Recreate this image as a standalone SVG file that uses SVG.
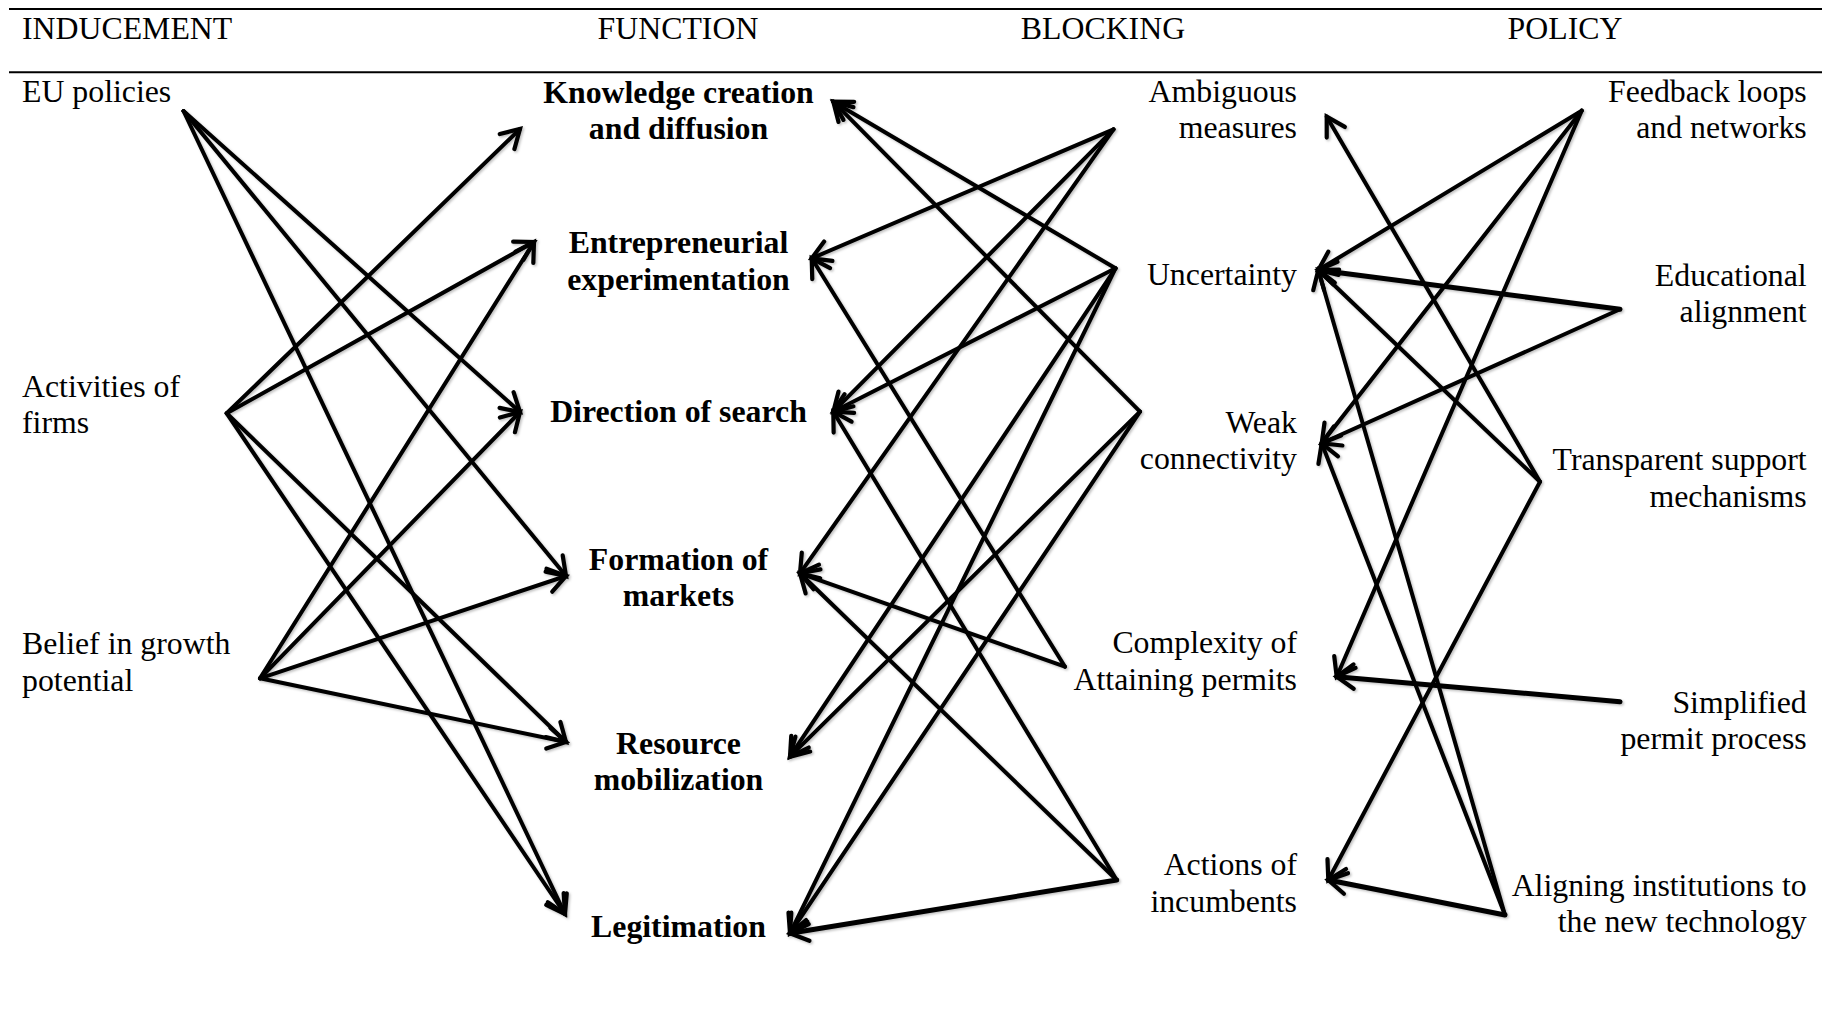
<svg xmlns="http://www.w3.org/2000/svg" width="1830" height="1013" viewBox="0 0 1830 1013">
<style>
text{font-family:"Liberation Serif","Times New Roman",serif;font-size:31.8px;fill:#000}
.h{text-anchor:middle}
.f{font-weight:bold;text-anchor:middle}
.b,.p{text-anchor:end}
.rule{stroke:#000;stroke-width:2}
.c{stroke:#000;stroke-width:4;fill:none;stroke-linecap:round;marker-end:url(#ah)}
.t{stroke-width:5}
</style>
<defs>
<marker id="ah" markerUnits="userSpaceOnUse" viewBox="-24 -14 30 28" markerWidth="30" markerHeight="28" refX="0" refY="0" orient="auto" overflow="visible">
<path d="M-18,-10.5 L0,0 L-18,10.5" fill="none" stroke="#000" stroke-width="4.2" stroke-linecap="round" stroke-linejoin="miter"/>
</marker>
<filter id="sh" x="-5%" y="-5%" width="110%" height="110%">
<feDropShadow dx="1.5" dy="1.5" stdDeviation="1.2" flood-color="#000" flood-opacity="0.25"/>
</filter>
</defs>
<rect width="1830" height="1013" fill="#fff"/>
<g id="header">
<line class="rule" x1="9" y1="9" x2="1822" y2="9"/>
<line class="rule" x1="9" y1="72.3" x2="1822" y2="72.3"/>
<text x="22" y="39">INDUCEMENT</text>
<text class="h" x="678" y="39">FUNCTION</text>
<text class="h" x="1103" y="39">BLOCKING</text>
<text class="h" x="1565" y="39">POLICY</text>
</g>
<g id="connectors" filter="url(#sh)">
<path class="c" d="M183.5,111 L520,412"/>
<path class="c" d="M183.5,111 L566,576"/>
<path class="c" d="M183.5,111 L565,914"/>
<path class="c" d="M226.7,413.3 L520,129"/>
<path class="c" d="M226.7,413.3 L534,242"/>
<path class="c" d="M226.7,413.3 L566,742"/>
<path class="c" d="M226.7,413.3 L565,914"/>
<path class="c" d="M260,678.3 L534,242"/>
<path class="c" d="M260,678.3 L520,412"/>
<path class="c" d="M260,678.3 L566,576"/>
<path class="c" d="M260,678.3 L566,742"/>
<path class="c" d="M1113.5,129.3 L811.7,258.3"/>
<path class="c" d="M1113.5,129.3 L833.3,411.7"/>
<path class="c" d="M1113.5,129.3 L800,573.3"/>
<path class="c" d="M1115.5,268.3 L833.3,101.7"/>
<path class="c" d="M1115.5,268.3 L833.3,411.7"/>
<path class="c" d="M1115.5,268.3 L790,756.7"/>
<path class="c" d="M1115.5,268.3 L790,933.3"/>
<path class="c" d="M1140,411.7 L833.3,101.7"/>
<path class="c" d="M1140,411.7 L790,756.7"/>
<path class="c" d="M1140,411.7 L790,933.3"/>
<path class="c" d="M1065,666.7 L811.7,258.3"/>
<path class="c" d="M1065,666.7 L800,573.3"/>
<path class="c" d="M1116.7,880 L833.3,411.7"/>
<path class="c" d="M1116.7,880 L800,573.3"/>
<path class="c t" d="M1116.7,880 L790,933.3"/>
<path class="c" d="M1581.7,110.7 L1318.3,270"/>
<path class="c" d="M1581.7,110.7 L1321.7,443.3"/>
<path class="c" d="M1581.7,110.7 L1336.7,676.7"/>
<path class="c t" d="M1620,309.3 L1318.3,270"/>
<path class="c" d="M1620,309.3 L1321.7,443.3"/>
<path class="c" d="M1540,481.7 L1326.7,116.7"/>
<path class="c" d="M1540,481.7 L1318.3,270"/>
<path class="c" d="M1540,481.7 L1328.3,880"/>
<path class="c t" d="M1620,701.7 L1336.7,676.7"/>
<path class="c" d="M1505,915 L1318.3,270"/>
<path class="c" d="M1505,915 L1321.7,443.3"/>
<path class="c t" d="M1505,915 L1328.3,880"/>
</g>
<g id="eu-policies"><text x="22" y="101.7">EU policies</text></g>
<g id="activities-of-firms"><text x="22" y="396.7">Activities of</text><text x="22" y="433.3">firms</text></g>
<g id="belief-in-growth"><text x="22" y="654">Belief in growth</text><text x="22" y="690.7">potential</text></g>
<g id="knowledge-creation"><text class="f" x="678.5" y="102.7">Knowledge creation</text><text class="f" x="678.5" y="139.3">and diffusion</text></g>
<g id="entrepreneurial-experimentation"><text class="f" x="678.5" y="253.3">Entrepreneurial</text><text class="f" x="678.5" y="290">experimentation</text></g>
<g id="direction-of-search"><text class="f" x="678.5" y="421.7">Direction of search</text></g>
<g id="formation-of-markets"><text class="f" x="678.5" y="570">Formation of</text><text class="f" x="678.5" y="606">markets</text></g>
<g id="resource-mobilization"><text class="f" x="678.5" y="754.3">Resource</text><text class="f" x="678.5" y="790">mobilization</text></g>
<g id="legitimation"><text class="f" x="678.5" y="936.7">Legitimation</text></g>
<g id="ambiguous-measures"><text class="b" x="1297" y="101.7">Ambiguous</text><text class="b" x="1297" y="138.3">measures</text></g>
<g id="uncertainty"><text class="b" x="1297" y="285">Uncertainty</text></g>
<g id="weak-connectivity"><text class="b" x="1297" y="432.5">Weak</text><text class="b" x="1297" y="469">connectivity</text></g>
<g id="complexity-of-permits"><text class="b" x="1297" y="653.3">Complexity of</text><text class="b" x="1297" y="690">Attaining permits</text></g>
<g id="actions-of-incumbents"><text class="b" x="1297" y="875">Actions of</text><text class="b" x="1297" y="911.7">incumbents</text></g>
<g id="feedback-loops"><text class="p" x="1806.7" y="101.7">Feedback loops</text><text class="p" x="1806.7" y="138.3">and networks</text></g>
<g id="educational-alignment"><text class="p" x="1806.7" y="285.5">Educational</text><text class="p" x="1806.7" y="322">alignment</text></g>
<g id="transparent-support"><text class="p" x="1806.7" y="470">Transparent support</text><text class="p" x="1806.7" y="506.5">mechanisms</text></g>
<g id="simplified-permit"><text class="p" x="1806.7" y="712.5">Simplified</text><text class="p" x="1806.7" y="749">permit process</text></g>
<g id="aligning-institutions"><text class="p" x="1806.7" y="895.5">Aligning institutions to</text><text class="p" x="1806.7" y="932">the new technology</text></g>
</svg>
